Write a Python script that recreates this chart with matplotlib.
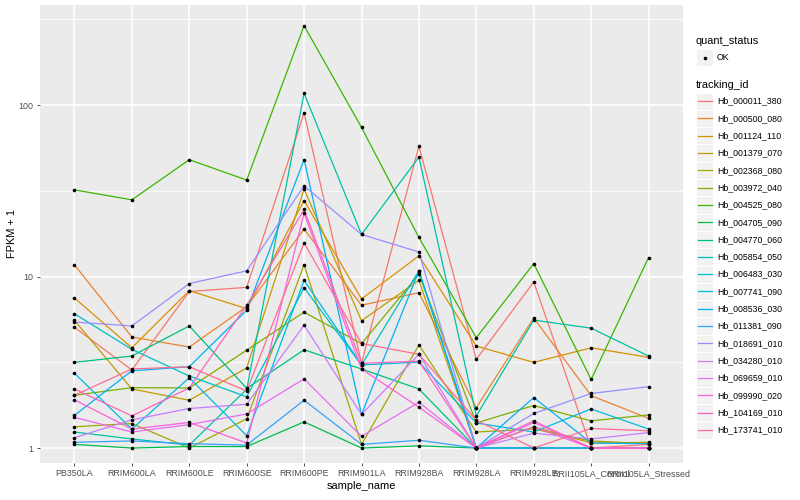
import numpy as np
import matplotlib
matplotlib.use('Agg')
import matplotlib.pyplot as plt
from matplotlib.patches import Rectangle

plt.rcParams['font.family'] = ['Liberation Sans', 'DejaVu Sans']

samples = ['PB350LA', 'RRIM600LA', 'RRIM600LE', 'RRIM600SE', 'RRIM600PE',
           'RRIM901LA', 'RRIM928BA', 'RRIM928LA', 'RRIM928LE',
           'RRII105LA_Control', 'RRII105LA_Stressed']

tracking_ids = ['Hb_000011_380', 'Hb_000500_080', 'Hb_001124_110', 'Hb_001379_070',
                'Hb_002368_080', 'Hb_003972_040', 'Hb_004525_080', 'Hb_004705_090',
                'Hb_004770_060', 'Hb_005854_050', 'Hb_006483_030', 'Hb_007741_090',
                'Hb_008536_030', 'Hb_011381_090', 'Hb_018691_010', 'Hb_034280_010',
                'Hb_069659_010', 'Hb_099990_020', 'Hb_104169_010', 'Hb_173741_010']

# ggplot default hue palette for 20 levels
colors = ['#F8766D', '#EA8331', '#D89000', '#C09B00', '#A3A500', '#7CAE00',
          '#39B600', '#00BB4E', '#00BF7D', '#00C1A3', '#00BFC4', '#00BAE0',
          '#00B0F6', '#35A2FF', '#9590FF', '#C77CFF', '#E76BF3', '#FA62DB',
          '#FF62BC', '#FF6C91']

# FPKM + 1, one row per tracking_id, columns follow `samples`
fpkm = [
    [5.06, 2.85, 8.18, 8.65, 89.9, 3.12, 57.6, 3.29, 9.3, 1.0, 1.05],
    [11.7, 4.44, 3.88, 6.67, 18.9, 6.8, 8.05, 1.72, 5.73, 2.02, 1.49],
    [7.5, 3.84, 8.27, 6.5, 27.7, 7.4, 13.2, 3.93, 3.16, 3.84, 3.38],
    [5.55, 2.21, 1.9, 2.93, 32.3, 5.53, 9.5, 1.0, 1.33, 1.07, 1.08],
    [1.33, 1.39, 1.0, 1.48, 11.7, 1.05, 3.99, 1.24, 1.29, 1.10, 1.06],
    [2.03, 2.25, 2.24, 3.72, 6.2, 4.06, 10.3, 1.4, 1.77, 1.44, 1.56],
    [32.0, 28.0, 48.0, 36.5, 290.0, 74.0, 16.9, 4.4, 11.9, 2.51, 12.9],
    [1.05, 1.0, 1.02, 1.02, 1.42, 1.0, 1.03, 1.0, 1.0, 1.0, 1.0],
    [3.16, 3.44, 5.15, 2.23, 3.74, 2.89, 2.21, 1.0, 1.0, 1.0, 1.0],
    [1.24, 1.13, 1.04, 2.2, 117.0, 17.6, 49.7, 1.54, 5.57, 5.0, 3.44],
    [6.07, 3.76, 2.63, 1.99, 8.6, 3.05, 10.8, 1.0, 1.0, 1.0, 1.0],
    [2.73, 1.29, 2.57, 1.18, 9.5, 3.05, 3.17, 1.4, 1.24, 1.69, 1.29],
    [1.55, 2.82, 2.98, 6.36, 48.0, 1.57, 10.8, 1.0, 1.97, 1.07, 1.06],
    [1.08, 1.10, 1.06, 1.04, 1.9, 1.05, 1.11, 1.0, 1.0, 1.0, 1.0],
    [5.43, 5.15, 9.1, 10.8, 33.8, 17.6, 13.9, 1.0, 1.59, 2.08, 2.28],
    [1.15, 1.46, 1.70, 1.8, 5.2, 1.57, 3.52, 1.0, 1.22, 1.13, 1.23],
    [1.51, 1.24, 1.37, 1.58, 2.53, 1.17, 1.85, 1.0, 1.41, 1.0, 1.0],
    [1.91, 1.29, 1.41, 1.07, 23.4, 2.89, 1.73, 1.0, 1.33, 1.0, 1.0],
    [2.21, 1.54, 2.24, 6.8, 24.6, 3.12, 3.21, 1.0, 1.44, 1.0, 1.0],
    [2.03, 2.89, 2.98, 2.15, 15.7, 4.07, 3.52, 1.45, 1.0, 1.30, 1.26],
]

W, H = 800, 500
fig = plt.figure(figsize=(8, 5), dpi=100)
fig.patch.set_facecolor('white')

# panel in pixel box: left 40, right 683, top 5, bottom 463
ax = fig.add_axes([40 / W, 1 - 463 / H, 643 / W, 458 / H])
ax.set_facecolor('#EBEBEB')
ax.set_yscale('log')

x = np.arange(len(samples))
for vals, col in zip(fpkm, colors):
    ax.plot(x, vals, color=col, lw=0.9, zorder=3)
for vals in fpkm:
    ax.plot(x, vals, 'o', color='black', ms=2.6, mec='black', mew=0, zorder=4)

ax.set_xlim(-0.6, len(samples) - 0.4)
ax.set_ylim(0.818, 383)

# grid like theme_grey
for v in [10 ** -0.5, 10 ** 0.5, 10 ** 1.5, 10 ** 2.5]:
    ax.axhline(v, color='white', lw=0.6, zorder=1)
for v in [1, 10, 100]:
    ax.axhline(v, color='white', lw=1.2, zorder=1)
for xi in x:
    ax.axvline(xi, color='white', lw=1.2, zorder=1)

ax.set_yticks([1, 10, 100])
ax.set_yticklabels(['1', '10', '100'])
ax.yaxis.set_minor_locator(matplotlib.ticker.NullLocator())
ax.set_xticks(x)
ax.set_xticklabels(samples)
ax.tick_params(axis='both', colors='#333333', labelcolor='#4D4D4D',
               labelsize=6.4, length=2.5, width=0.6, pad=2)
for s in ax.spines.values():
    s.set_visible(False)

ax.set_xlabel('sample_name', fontsize=7.9, labelpad=2)
ax.set_ylabel('FPKM + 1', fontsize=7.9, labelpad=1)

# legend drawn in pixel coordinates
lax = fig.add_axes([0, 0, 1, 1], facecolor='none')
lax.set_xlim(0, W)
lax.set_ylim(H, 0)
lax.axis('off')

lax.text(696, 41, 'quant_status', fontsize=7.9, va='center', ha='left')
lax.add_patch(Rectangle((696, 49), 17, 17, facecolor='#F2F2F2', edgecolor='white', lw=0.8))
lax.plot([704.5], [57.5], 'o', color='black', ms=2.6, mew=0)
lax.text(717, 57.5, 'OK', fontsize=6.3, va='center', ha='left')

lax.text(696, 85, 'tracking_id', fontsize=7.9, va='center', ha='left')
top = 92.5
step = 17.3
for i, (name, col) in enumerate(zip(tracking_ids, colors)):
    yc = top + step * i + step / 2
    lax.add_patch(Rectangle((696, yc - step / 2), 17, step, facecolor='#F2F2F2',
                            edgecolor='white', lw=0.8))
    lax.plot([697.5, 711.5], [yc, yc], color=col, lw=0.9)
    lax.text(717, yc, name, fontsize=6.3, va='center', ha='left')

fig.savefig('out.png', dpi=100)
